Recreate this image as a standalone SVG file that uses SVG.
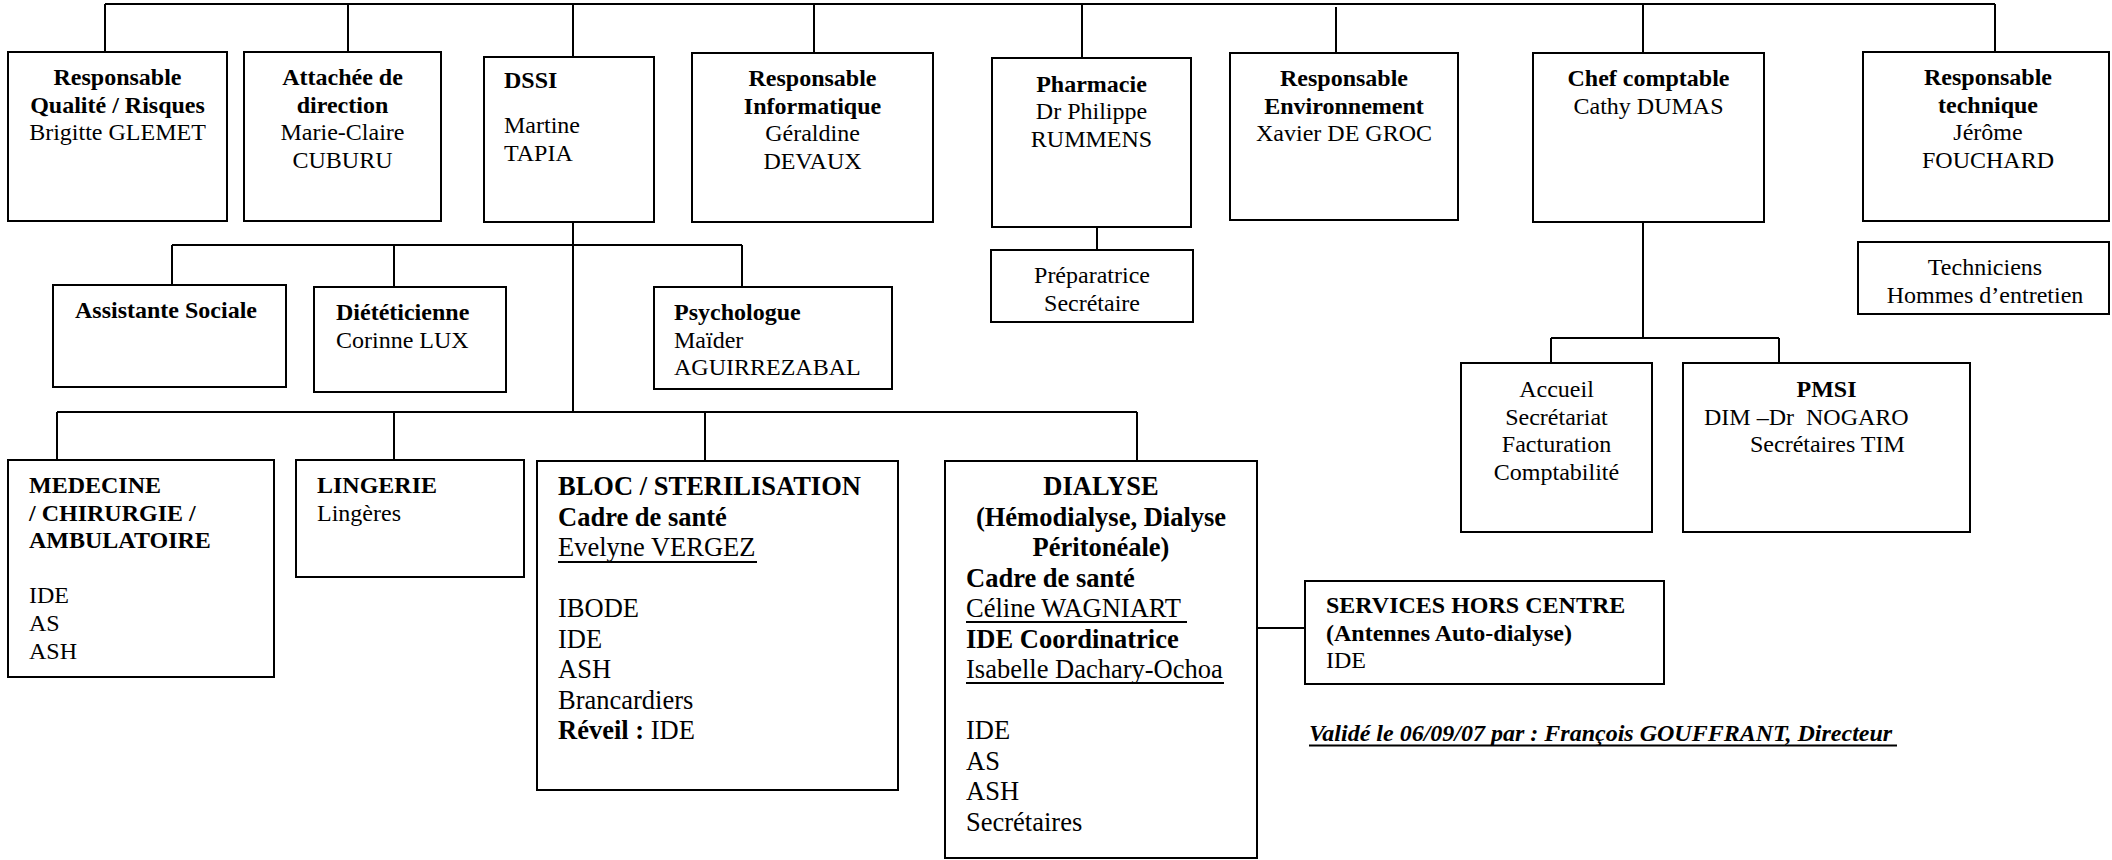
<svg xmlns="http://www.w3.org/2000/svg" width="2112" height="860" viewBox="0 0 2112 860">
<style>
.box{fill:#fff;stroke:#000;stroke-width:2}
.ln{fill:none;stroke:#000;stroke-width:2}
text{font-family:"Liberation Serif","Times New Roman",serif;font-size:24px;fill:#000}
.b{font-weight:bold}
.L{font-size:26.5px}
.c{text-anchor:middle}
.u{stroke:#000;stroke-width:2}
</style>
<rect width="2112" height="860" fill="#fff"/>
<g id="connectors">
<path class="ln" d="M105,4H1995M105,4V52M348,4V52M573,4V57M814,4V53M1082,4V58M1336,7V53M1643,4V53M1995,4V52"/>
<path class="ln" d="M573,222V413M172,245H742M172,245V285M394,245V287M742,245V287"/>
<path class="ln" d="M57,412H1137M57,412V460M394,412V460M705,412V460M1137,412V460"/>
<path class="ln" d="M1097,227V250"/>
<path class="ln" d="M1643,222V338M1551,338H1779M1551,338V363M1779,338V363"/>
<path class="ln" d="M1257,628H1305"/>
</g>
<g id="qualite">
<rect class="box" x="8" y="52" width="219" height="169"/>
<text class="b c" x="117.5" y="85">Responsable</text>
<text class="b c" x="117.5" y="112.6">Qualité / Risques</text>
<text class="c" x="117.5" y="140.2">Brigitte GLEMET</text>
</g>
<g id="attachee">
<rect class="box" x="244" y="52" width="197" height="169"/>
<text class="b c" x="342.5" y="85">Attachée de</text>
<text class="b c" x="342.5" y="112.6">direction</text>
<text class="c" x="342.5" y="140.2">Marie-Claire</text>
<text class="c" x="342.5" y="167.8">CUBURU</text>
</g>
<g id="dssi">
<rect class="box" x="484" y="57" width="170" height="165"/>
<text class="b" x="504" y="88">DSSI</text>
<text x="504" y="133">Martine</text>
<text x="504" y="160.6">TAPIA</text>
</g>
<g id="informatique">
<rect class="box" x="692" y="53" width="241" height="169"/>
<text class="b c" x="812.5" y="86">Responsable</text>
<text class="b c" x="812.5" y="113.6">Informatique</text>
<text class="c" x="812.5" y="141.2">Géraldine</text>
<text class="c" x="812.5" y="168.8">DEVAUX</text>
</g>
<g id="pharmacie">
<rect class="box" x="992" y="58" width="199" height="169"/>
<text class="b c" x="1091.5" y="91.5">Pharmacie</text>
<text class="c" x="1091.5" y="119.1">Dr Philippe</text>
<text class="c" x="1091.5" y="146.7">RUMMENS</text>
</g>
<g id="preparatrice">
<rect class="box" x="991" y="250" width="202" height="72"/>
<text class="c" x="1092" y="283">Préparatrice</text>
<text class="c" x="1092" y="310.6">Secrétaire</text>
</g>
<g id="environnement">
<rect class="box" x="1230" y="53" width="228" height="167"/>
<text class="b c" x="1344" y="86">Responsable</text>
<text class="b c" x="1344" y="113.6">Environnement</text>
<text class="c" x="1344" y="141.2">Xavier DE GROC</text>
</g>
<g id="chef-comptable">
<rect class="box" x="1533" y="53" width="231" height="169"/>
<text class="b c" x="1648.5" y="86">Chef comptable</text>
<text class="c" x="1648.5" y="113.6">Cathy DUMAS</text>
</g>
<g id="responsable-technique">
<rect class="box" x="1863" y="52" width="246" height="169"/>
<text class="b c" x="1988" y="85">Responsable</text>
<text class="b c" x="1988" y="112.6">technique</text>
<text class="c" x="1988" y="140.2">Jérôme</text>
<text class="c" x="1988" y="167.8">FOUCHARD</text>
</g>
<g id="techniciens">
<rect class="box" x="1858" y="242" width="251" height="72"/>
<text class="c" x="1985" y="275">Techniciens</text>
<text class="c" x="1985" y="302.6">Hommes d’entretien</text>
</g>
<g id="assistante">
<rect class="box" x="53" y="285" width="233" height="102"/>
<text class="b" x="75" y="318">Assistante Sociale</text>
</g>
<g id="dieteticienne">
<rect class="box" x="314" y="287" width="192" height="105"/>
<text class="b" x="336" y="320">Diététicienne</text>
<text x="336" y="347.6">Corinne LUX</text>
</g>
<g id="psychologue">
<rect class="box" x="654" y="287" width="238" height="102"/>
<text class="b" x="674" y="320">Psychologue</text>
<text x="674" y="347.6">Maïder</text>
<text x="674" y="375.2">AGUIRREZABAL</text>
</g>
<g id="medecine">
<rect class="box" x="8" y="460" width="266" height="217"/>
<text class="b" x="29" y="493">MEDECINE</text>
<text class="b" x="29" y="520.6">/ CHIRURGIE /</text>
<text class="b" x="29" y="548.2">AMBULATOIRE</text>
<text x="29" y="603.4">IDE</text>
<text x="29" y="631">AS</text>
<text x="29" y="658.6">ASH</text>
</g>
<g id="lingerie">
<rect class="box" x="296" y="460" width="228" height="117"/>
<text class="b" x="317" y="493">LINGERIE</text>
<text x="317" y="520.6">Lingères</text>
</g>
<g id="bloc">
<rect class="box" x="537" y="461" width="361" height="329"/>
<text class="b L" x="558" y="495">BLOC / STERILISATION</text>
<text class="b L" x="558" y="525.5">Cadre de santé</text>
<text class="L" x="558" y="556">Evelyne VERGEZ</text>
<line class="u" x1="558" y1="562" x2="757" y2="562"/>
<text class="L" x="558" y="617">IBODE</text>
<text class="L" x="558" y="647.5">IDE</text>
<text class="L" x="558" y="678">ASH</text>
<text class="L" x="558" y="708.5">Brancardiers</text>
<text class="L" x="558" y="739"><tspan class="b">Réveil :</tspan> IDE</text>
</g>
<g id="dialyse">
<rect class="box" x="945" y="461" width="312" height="397"/>
<text class="b L c" x="1101" y="495">DIALYSE</text>
<text class="b L c" x="1101" y="525.5">(Hémodialyse, Dialyse</text>
<text class="b L c" x="1101" y="556">Péritonéale)</text>
<text class="b L" x="966" y="586.5">Cadre de santé</text>
<text class="L" x="966" y="617">Céline WAGNIART</text>
<line class="u" x1="966" y1="622" x2="1187" y2="622"/>
<text class="b L" x="966" y="647.5">IDE Coordinatrice</text>
<text class="L" x="966" y="678">Isabelle Dachary-Ochoa</text>
<line class="u" x1="966" y1="683" x2="1224" y2="683"/>
<text class="L" x="966" y="739">IDE</text>
<text class="L" x="966" y="769.5">AS</text>
<text class="L" x="966" y="800">ASH</text>
<text class="L" x="966" y="830.5">Secrétaires</text>
</g>
<g id="services-hors-centre">
<rect class="box" x="1305" y="581" width="359" height="103"/>
<text class="b" x="1326" y="613">SERVICES HORS CENTRE</text>
<text class="b" x="1326" y="640.6">(Antennes Auto-dialyse)</text>
<text x="1326" y="668.2">IDE</text>
</g>
<g id="accueil">
<rect class="box" x="1461" y="363" width="191" height="169"/>
<text class="c" x="1556.5" y="397">Accueil</text>
<text class="c" x="1556.5" y="424.6">Secrétariat</text>
<text class="c" x="1556.5" y="452.2">Facturation</text>
<text class="c" x="1556.5" y="479.8">Comptabilité</text>
</g>
<g id="pmsi">
<rect class="box" x="1683" y="363" width="287" height="169"/>
<text class="b c" x="1826.5" y="397">PMSI</text>
<text x="1704" y="424.6" xml:space="preserve">DIM –Dr  NOGARO</text>
<text x="1750" y="452.2">Secrétaires TIM</text>
</g>
<g id="validation">
<text class="b" x="1309" y="741" font-style="italic">Validé le 06/09/07 par : François GOUFFRANT, Directeur</text>
<line class="u" x1="1309" y1="745.5" x2="1897" y2="745.5"/>
</g>
</svg>
